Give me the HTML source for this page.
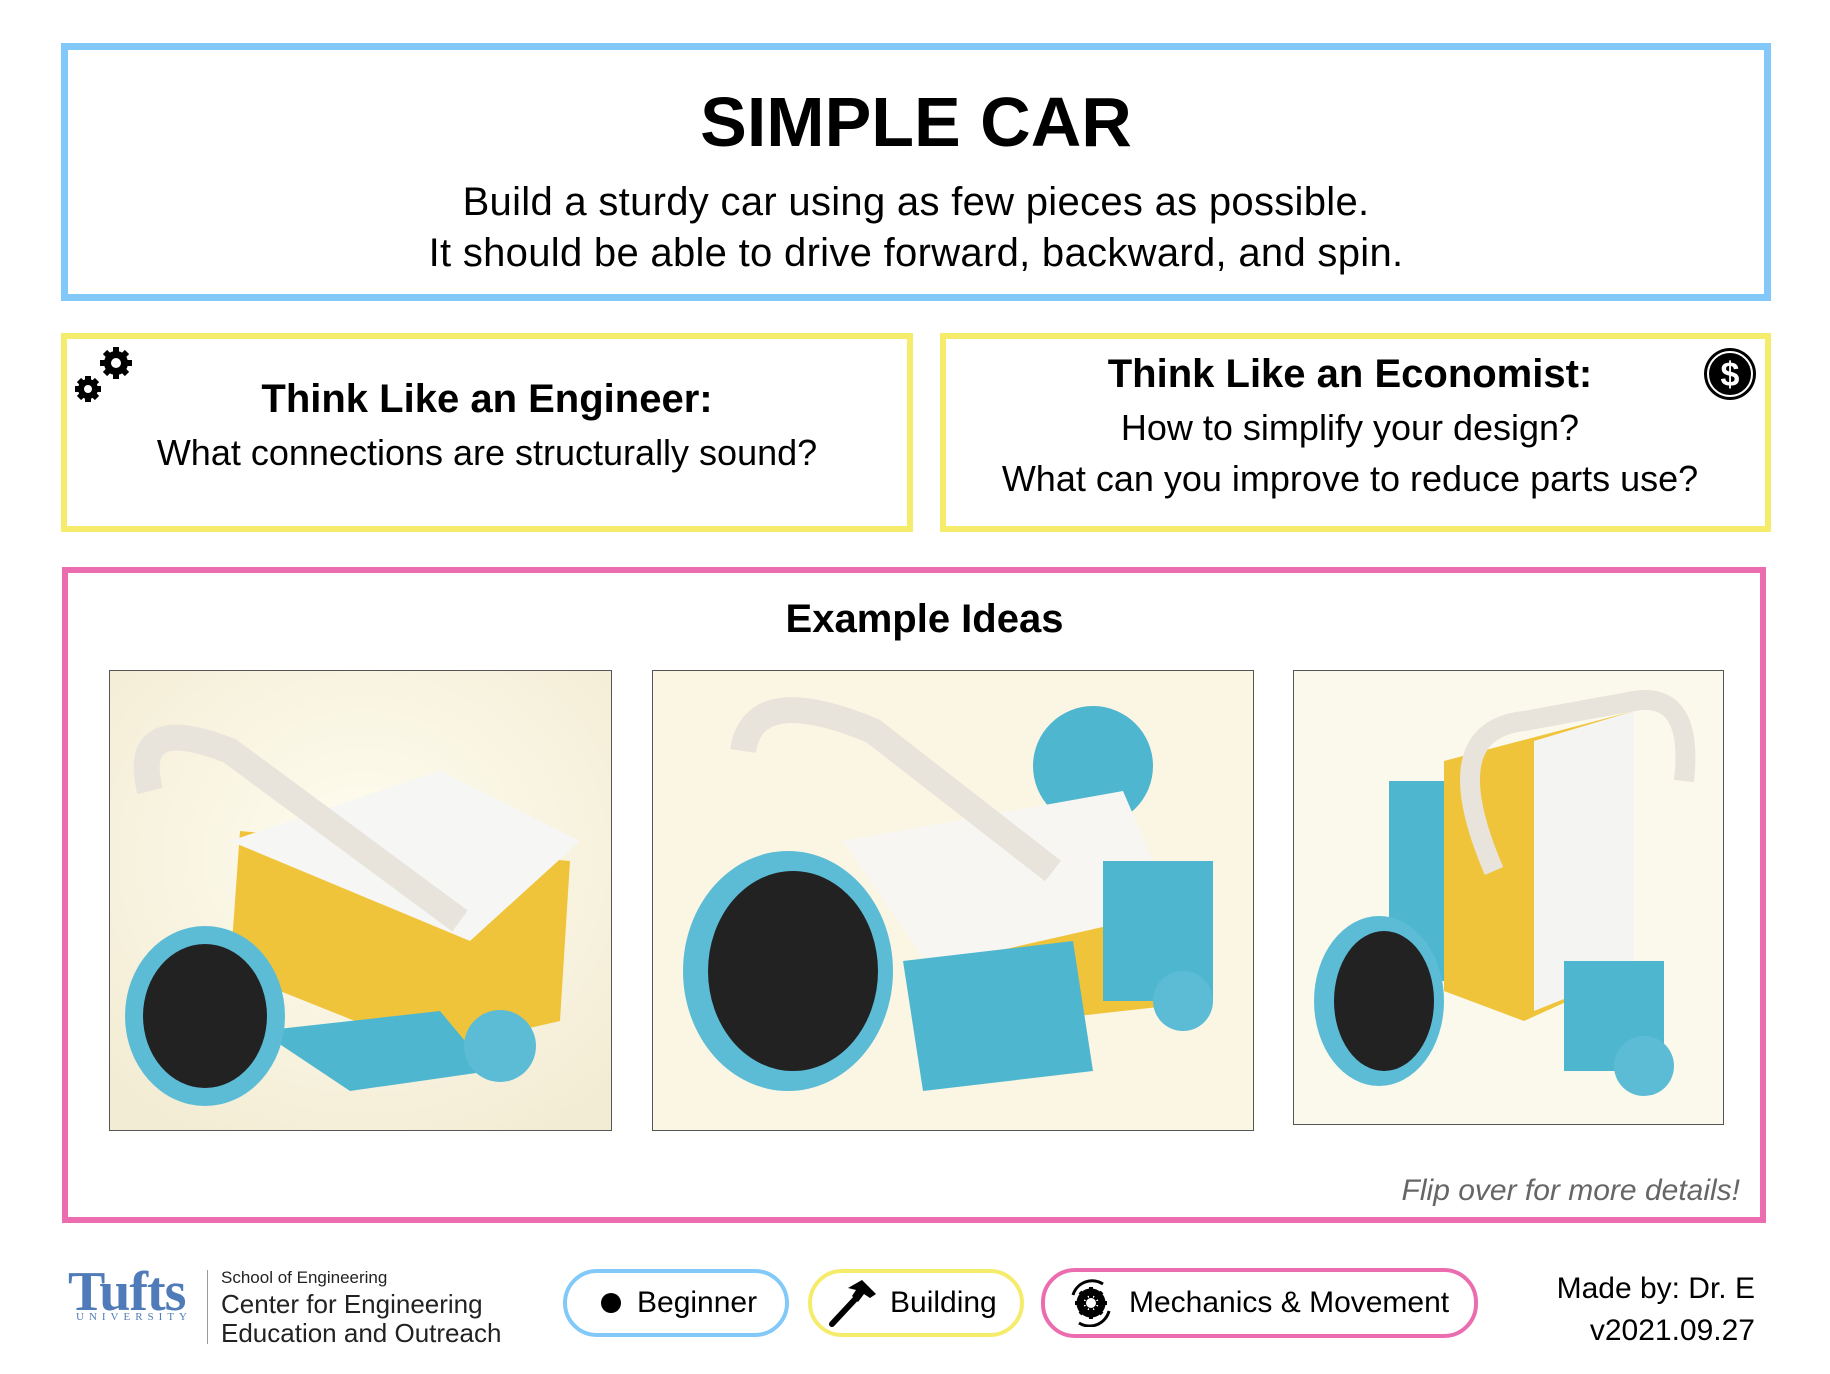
<!DOCTYPE html>
<html><head><meta charset="utf-8"><style>
body{margin:0;width:1830px;height:1374px;background:#fff;position:relative;font-family:"Liberation Sans",Arial,sans-serif;color:#000;overflow:hidden}
.box{position:absolute;box-sizing:border-box}
.t{position:absolute;white-space:nowrap;text-align:center}
.photo{position:absolute;box-sizing:border-box;border:1.5px solid #555;overflow:hidden}
.pill{position:absolute;box-sizing:border-box;border-radius:34px;background:#fff;font-size:30px;display:flex;align-items:center}
</style></head><body>
<div class="box" style="left:61px;top:43px;width:1710px;height:258px;border:7px solid #82c8f8"></div>
<div class="t" style="left:61px;width:1710px;top:82px;font-size:70px;font-weight:bold">SIMPLE CAR</div>
<div class="t" style="left:61px;width:1710px;top:177px;font-size:40px;line-height:51px;letter-spacing:0.3px">Build a sturdy car using as few pieces as possible.<br>It should be able to drive forward, backward, and spin.</div>

<div class="box" style="left:61px;top:333px;width:852px;height:199px;border:6px solid #f6ec6c"></div>
<svg style="position:absolute;left:74px;top:345px" width="62" height="60" viewBox="0 0 62 60">
<g fill="#000"><circle cx="42" cy="18" r="12"/><circle cx="14" cy="44" r="10"/>
<g stroke="#000" stroke-width="6"><line x1="42" y1="2" x2="42" y2="34"/><line x1="26" y1="18" x2="58" y2="18"/><line x1="31" y1="7" x2="53" y2="29"/><line x1="53" y1="7" x2="31" y2="29"/>
<line x1="14" y1="31" x2="14" y2="57"/><line x1="1" y1="44" x2="27" y2="44"/><line x1="5" y1="35" x2="23" y2="53"/><line x1="23" y1="35" x2="5" y2="53"/></g></g>
<circle cx="42" cy="18" r="5" fill="#fff"/><circle cx="14" cy="44" r="4" fill="#fff"/></svg>
<div class="t" style="left:61px;width:852px;top:377px;font-size:40px;font-weight:bold">Think Like an Engineer:</div>
<div class="t" style="left:61px;width:852px;top:432px;font-size:36px">What connections are structurally sound?</div>

<div class="box" style="left:940px;top:333px;width:831px;height:199px;border:6px solid #f6ec6c"></div>
<svg style="position:absolute;left:1702px;top:346px" width="56" height="56" viewBox="0 0 56 56"><circle cx="28" cy="28" r="26" fill="#000"/><circle cx="28" cy="28" r="22" fill="none" stroke="#fff" stroke-width="2"/><text x="28" y="40" text-anchor="middle" font-family="Liberation Sans" font-weight="bold" font-size="34" fill="#fff">$</text></svg>
<div class="t" style="left:940px;width:820px;top:352px;font-size:40px;font-weight:bold">Think Like an Economist:</div>
<div class="t" style="left:940px;width:820px;top:402px;font-size:36px;line-height:51px">How to simplify your design?<br>What can you improve to reduce parts use?</div>

<div class="box" style="left:62px;top:567px;width:1704px;height:656px;border:6px solid #ec6cb0"></div>
<div class="t" style="left:62px;width:1725px;top:597px;font-size:40px;font-weight:bold">Example Ideas</div>

<div class="photo" style="left:109px;top:670px;width:503px;height:461px">
<svg width="507" height="461"><defs><radialGradient id="bg1" cx="50%" cy="40%" r="70%"><stop offset="0" stop-color="#fffdf0"/><stop offset="1" stop-color="#f3ecd4"/></radialGradient></defs>
<rect width="507" height="461" fill="url(#bg1)"/>
<polygon points="130,160 460,190 450,350 320,380 120,300" fill="#f0c43a"/>
<polygon points="150,360 330,340 380,400 240,420" fill="#4fb6cf"/>
<polygon points="120,170 330,100 470,170 360,270" fill="#f6f6f4"/>
<path d="M40,120 Q20,40 120,80 L350,250" stroke="#e8e4dc" stroke-width="26" fill="none"/>
<ellipse cx="95" cy="345" rx="80" ry="90" fill="#5cbcd6"/><ellipse cx="95" cy="345" rx="62" ry="72" fill="#222"/>
<circle cx="390" cy="375" r="36" fill="#5cbcd6"/></svg></div>

<div class="photo" style="left:652px;top:670px;width:602px;height:461px">
<svg width="607" height="461"><rect width="607" height="461" fill="#fbf6e4"/>
<circle cx="440" cy="95" r="60" fill="#4fb6cf"/>
<polygon points="190,170 470,120 530,260 300,330" fill="#f8f6f2"/>
<polygon points="300,290 520,240 560,330 380,350" fill="#f0c43a"/>
<polygon points="250,290 420,270 440,400 270,420" fill="#4fb6cf"/>
<rect x="450" y="190" width="110" height="140" fill="#4fb6cf"/>
<path d="M90,80 Q100,10 220,60 L400,200" stroke="#e8e4dc" stroke-width="26" fill="none"/>
<ellipse cx="135" cy="300" rx="105" ry="120" fill="#5cbcd6"/><ellipse cx="140" cy="300" rx="85" ry="100" fill="#222"/>
<circle cx="530" cy="330" r="30" fill="#5cbcd6"/></svg></div>

<div class="photo" style="left:1293px;top:670px;width:431px;height:455px">
<svg width="432" height="455"><rect width="432" height="455" fill="#fbf8ec"/>
<rect x="95" y="110" width="70" height="200" fill="#4fb6cf"/>
<polygon points="150,90 340,40 340,300 230,350 150,320" fill="#f0c43a"/>
<polygon points="240,70 340,40 340,300 240,340" fill="#f4f4f2"/>
<path d="M200,200 Q140,60 230,50 L340,30 Q400,20 390,110" stroke="#e8e4dc" stroke-width="20" fill="none"/>
<rect x="270" y="290" width="100" height="110" fill="#4fb6cf"/>
<ellipse cx="85" cy="330" rx="65" ry="85" fill="#5cbcd6"/><ellipse cx="90" cy="330" rx="50" ry="70" fill="#222"/>
<circle cx="350" cy="395" r="30" fill="#5cbcd6"/></svg></div>

<div class="t" style="right:90px;top:1174px;font-size:30px;font-style:italic;color:#666">Flip over for more details!</div>

<div class="t" style="left:68px;top:1260px;font-family:'Liberation Serif',serif;font-weight:bold;font-size:56px;color:#4f7cb8;letter-spacing:-1px">Tufts</div>
<div class="t" style="left:76px;top:1311px;font-family:'Liberation Serif',serif;font-size:11px;color:#4f7cb8;letter-spacing:5px">UNIVERSITY</div>
<div class="box" style="left:207px;top:1270px;width:1px;height:74px;background:#999"></div>
<div class="t" style="left:221px;top:1268px;text-align:left;font-size:17px;color:#222">School of Engineering</div>
<div class="t" style="left:221px;top:1290px;text-align:left;font-size:26px;line-height:29px;color:#222">Center for Engineering<br>Education and Outreach</div>

<div class="pill" style="left:563px;top:1269px;width:226px;height:68px;border:4px solid #82c8f8;padding-left:34px"><span style="display:inline-block;width:20px;height:20px;border-radius:50%;background:#000;margin-right:16px"></span>Beginner</div>
<div class="pill" style="left:808px;top:1269px;width:216px;height:68px;border:4px solid #f6ec6c;padding-left:14px"><svg width="54" height="50" viewBox="0 0 54 50" style="margin-right:10px"><line x1="6" y1="46" x2="34" y2="16" stroke="#000" stroke-width="6" stroke-linecap="round"/><polygon points="22,10 36,2 50,16 44,20 38,16 32,24 26,18 30,12" fill="#000"/></svg>Building</div>
<div class="pill" style="left:1041px;top:1268px;width:437px;height:70px;border:4px solid #ec6cb0;padding-left:24px;font-size:30px"><svg width="44" height="48" viewBox="0 0 44 48" style="margin-right:16px"><circle cx="22" cy="24" r="11" fill="none" stroke="#000" stroke-width="7"/><g stroke="#000" stroke-width="4"><line x1="22" y1="8" x2="22" y2="40"/><line x1="6" y1="24" x2="38" y2="24"/><line x1="11" y1="13" x2="33" y2="35"/><line x1="33" y1="13" x2="11" y2="35"/></g><circle cx="22" cy="24" r="5" fill="#fff"/><path d="M4,16 A20,20 0 0 1 34,5" fill="none" stroke="#000" stroke-width="3"/><path d="M40,32 A20,20 0 0 1 10,44" fill="none" stroke="#000" stroke-width="3"/></svg>Mechanics &amp; Movement</div>

<div class="t" style="right:75px;top:1268px;text-align:right;font-size:30px;line-height:42px">Made by: Dr. E<br>v2021.09.27</div>
</body></html>
